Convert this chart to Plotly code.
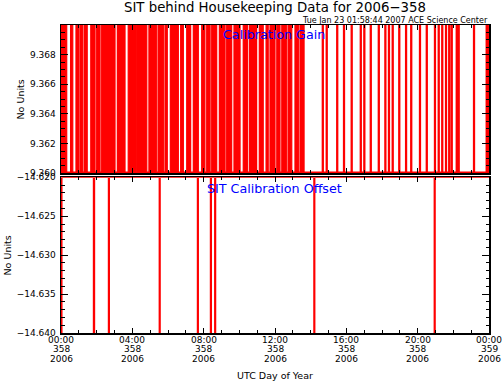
import plotly.graph_objects as go

# ---------------- data ----------------
# Calibration Gain: intervals (hours of day 358) where the value sits at the high level
gain_high_start = [0.00, 0.54, 0.84, 1.09, 1.32, 1.67, 2.00, 2.28, 2.69, 3.16, 3.77, 4.21,
                   4.93, 5.46, 5.83, 6.13, 6.45, 6.71, 7.05, 7.42, 7.89, 8.17, 8.45, 8.88,
                   9.29, 9.70, 10.22, 10.56, 11.12, 11.50, 11.72, 12.10, 12.38, 12.75, 13.12,
                   13.40, 14.65, 14.87, 15.46, 15.84, 16.27, 16.78, 16.98, 17.34, 17.79,
                   18.16, 18.36, 18.57, 18.94, 19.32, 19.61, 20.10, 20.48, 20.94, 21.15,
                   21.35, 21.56, 21.74, 21.88, 22.16, 22.27, 23.13, 23.84, 23.96]
gain_high_end = [0.32, 0.66, 1.01, 1.23, 1.47, 1.91, 2.19, 2.64, 3.03, 3.59, 4.15, 4.81,
                 5.37, 5.74, 5.96, 6.41, 6.58, 6.86, 7.27, 7.70, 8.07, 8.36, 8.73, 9.20,
                 9.57, 10.04, 10.45, 10.97, 11.34, 11.62, 12.00, 12.28, 12.66, 12.94, 13.31,
                 13.63, 14.71, 14.93, 15.52, 15.90, 16.33, 16.84, 17.04, 17.40, 17.85,
                 18.22, 18.42, 18.63, 19.00, 19.38, 19.67, 20.16, 20.54, 21.00, 21.21,
                 21.41, 21.62, 21.80, 21.94, 22.22, 22.33, 23.19, 23.90, 24.00]
GAIN_LOW = 9.36008
GAIN_HIGH = 9.3706

# SIT Calibration Offset: short dips from -14.620 down to -14.640
offset_dip_start = [0.00, 1.82, 2.66, 5.51, 7.65, 8.38, 8.62, 14.18, 20.93]
offset_dip_end = [0.05, 1.88, 2.71, 5.56, 7.70, 8.43, 8.67, 14.23, 20.98]
OFFSET_BASE = -14.620
OFFSET_DIP = -14.6405

x_tick_hours = [0, 4, 8, 12, 16, 20, 24]
x_tick_time = ["00:00", "04:00", "08:00", "12:00", "16:00", "20:00", "00:00"]
x_tick_doy = ["358", "358", "358", "358", "358", "358", "359"]
x_tick_year = ["2006"] * 7

gain_ticks = [9.360, 9.362, 9.364, 9.366, 9.368]
gain_tick_text = ["9.360", "9.362", "9.364", "9.366", "9.368"]
offset_ticks = [-14.640, -14.635, -14.630, -14.625, -14.620]
offset_tick_text = ["\u221214.640", "\u221214.635", "\u221214.630", "\u221214.625", "\u221214.620"]

# ---------------- build step series ----------------
gx, gy = [0.0], [GAIN_LOW]
for a, b in zip(gain_high_start, gain_high_end):
    gx += [a, a, b, b]
    gy += [GAIN_LOW, GAIN_HIGH, GAIN_HIGH, GAIN_LOW]
gx.append(24.0)
gy.append(GAIN_LOW)

ox, oy = [0.0], [OFFSET_DIP]
for a, b in zip(offset_dip_start, offset_dip_end):
    ox += [a, a, b, b]
    oy += [OFFSET_BASE, OFFSET_DIP, OFFSET_DIP, OFFSET_BASE]
ox.append(24.0)
oy.append(OFFSET_BASE)

RED = "#ff0000"
FONT = "DejaVu Sans"

fig = go.Figure()
fig.add_trace(go.Scatter(x=gx, y=gy, mode="lines", line=dict(color=RED, width=1.2),
                         fill="tozeroy", fillcolor=RED, xaxis="x", yaxis="y",
                         hoverinfo="skip", showlegend=False))
fig.add_trace(go.Scatter(x=ox, y=oy, mode="lines", line=dict(color=RED, width=1.3),
                         xaxis="x2", yaxis="y2", hoverinfo="skip", showlegend=False))

L, R, T, B = 61, 489, 25, 333
W, H = R - L, B - T


def px(xp):
    return (xp - L) / W


def py(yp):
    return (B - yp) / H


axis_common = dict(showline=True, linecolor="black", linewidth=1.5, mirror="allticks",
                   ticks="inside", tickcolor="black", tickwidth=1, showgrid=False,
                   zeroline=False, tickfont=dict(family=FONT, size=9, color="black"))

top_dom = [py(173.3), 1.0]
bot_dom = [0.0, py(177.3)]

fig.update_layout(
    width=503, height=382, autosize=False,
    margin=dict(l=L, r=503 - R, t=T, b=382 - B, pad=0),
    paper_bgcolor="white", plot_bgcolor="white",
    xaxis=dict(axis_common, domain=[0, 1], range=[0, 24], anchor="y",
               tickmode="array", tickvals=x_tick_hours, ticklen=5, showticklabels=False,
               minor=dict(tickmode="linear", tick0=0, dtick=1, ticklen=3, ticks="inside",
                          tickcolor="black")),
    yaxis=dict(axis_common, domain=top_dom, range=[9.360, 9.370], anchor="x",
               tickmode="array", tickvals=gain_ticks, ticktext=gain_tick_text, ticklen=7,
               ticklabelstandoff=2,
               minor=dict(tickmode="linear", tick0=9.360, dtick=0.0005, ticklen=3.5,
                          ticks="inside", tickcolor="black")),
    xaxis2=dict(axis_common, domain=[0, 1], range=[0, 24], anchor="y2",
                tickmode="array", tickvals=x_tick_hours, ticklen=5, showticklabels=False,
                minor=dict(tickmode="linear", tick0=0, dtick=1, ticklen=3, ticks="inside",
                           tickcolor="black")),
    yaxis2=dict(axis_common, domain=bot_dom, range=[-14.640, -14.620], anchor="x2",
                tickmode="array", tickvals=offset_ticks, ticktext=offset_tick_text,
                ticklen=7, ticklabelstandoff=2,
                minor=dict(tickmode="linear", tick0=-14.640, dtick=0.001, ticklen=3.5,
                           ticks="inside", tickcolor="black")),
)

ann = []


def add_text(text, x, y, size, color="black", xanchor="center", angle=0):
    ann.append(dict(text=text, x=px(x), y=py(y), xref="paper", yref="paper",
                    xanchor=xanchor, yanchor="middle", showarrow=False, textangle=angle,
                    font=dict(family=FONT, size=size, color=color)))


add_text("SIT behind Housekeeping Data for 2006\u2212358", 274.7, 7.5, 13.3)
add_text("Tue Jan 23 01:58:44 2007 ACE Science Center", 490, 20.5, 8, xanchor="right")
add_text("Calibration Gain", 274, 34.5, 12.7, color="#0000ff")
add_text("SIT Calibration Offset", 274.5, 188, 12.7, color="#0000ff")
add_text("No Units", 19.5, 100, 9.5, angle=-90)
add_text("No Units", 6.5, 256, 9.5, angle=-90)
add_text("UTC Day of Year", 274.5, 375.8, 9.5)

for h, t1, t2, t3 in zip(x_tick_hours, x_tick_time, x_tick_doy, x_tick_year):
    for txt, yy in ((t1, 340), (t2, 349), (t3, 358.5)):
        ann.append(dict(text=txt, x=h, xref="x2", y=py(yy), yref="paper",
                        xanchor="center", yanchor="middle", showarrow=False,
                        font=dict(family=FONT, size=9, color="black")))

fig.update_layout(annotations=ann)
fig.write_html("out.html",
               config={"displayModeBar": False, "staticPlot": True},
               post_script="document.body.style.margin='0px';"
                           "document.body.style.overflow='hidden';")
